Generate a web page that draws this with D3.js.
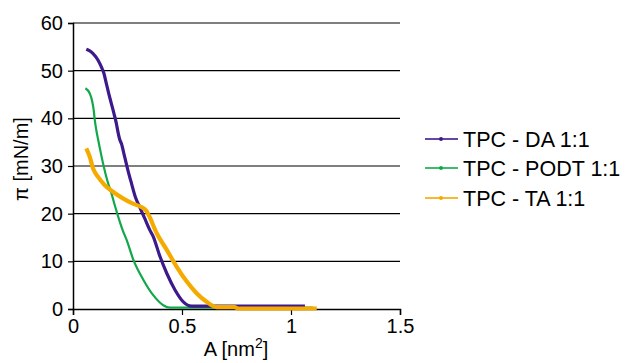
<!DOCTYPE html>
<html><head><meta charset="utf-8">
<script src="https://cdn.jsdelivr.net/npm/d3@7"></script>
<style>body{margin:0;background:#fff}svg{display:block;font-family:"Liberation Sans",Arial,sans-serif}</style>
</head><body><svg id="c" width="626" height="363"></svg>
<script>
const seriesNames = ["TPC - DA 1:1", "TPC - PODT 1:1", "TPC - TA 1:1"];
const seriesColors = ["#3d1a8c", "#12a84a", "#f5aa00"];
const daX = [0.061,0.075,0.092,0.115,0.13,0.142,0.153,0.164,0.176,0.188,0.199,0.206,0.214,0.222,0.237,0.252,0.268,0.286,0.306,0.329,0.352,0.368,0.399,0.43,0.468,0.506,0.544,0.6,0.8,1.0,1.064];
const daY = [54.5,54.2,53.6,52.2,50.8,49.4,47.3,45.2,43.1,41.0,38.9,37.2,35.6,34.7,31.9,29.1,26.4,23.5,21.4,19.0,16.6,15.2,11.0,7.5,4.0,1.5,0.6,0.6,0.6,0.6,0.6];
const podtX = [0.057,0.077,0.087,0.095,0.1,0.107,0.115,0.122,0.138,0.157,0.176,0.194,0.214,0.229,0.246,0.277,0.323,0.368,0.414,0.445,0.6,0.8,1.0,1.1];
const podtY = [46.3,45.2,43.8,41.7,39.6,37.5,35.6,34.0,30.5,27.0,24.3,21.4,18.4,16.4,14.5,10.3,6.1,2.9,0.8,0.3,0.3,0.3,0.3,0.3];
const taX = [0.061,0.077,0.092,0.115,0.145,0.183,0.229,0.275,0.313,0.336,0.346,0.384,0.43,0.475,0.521,0.567,0.613,0.659,0.74,0.76,0.9,1.0,1.118];
const taY = [33.7,31.9,29.5,27.7,26.0,24.6,23.2,22.1,21.4,20.6,19.8,15.9,12.4,8.9,5.8,3.3,1.5,0.4,0.4,0.1,0.1,0.1,0.1];
const xTicks = [0, 0.5, 1, 1.5];
const yTicks = [0, 10, 20, 30, 40, 50, 60];

const svg = d3.select("#c");
const x = d3.scaleLinear().domain([0, 1.5]).range([73, 400]);
const y = d3.scaleLinear().domain([0, 60]).range([309, 23]);

svg.append("g").selectAll("line").data(yTicks.slice(1)).join("line")
  .attr("x1", 73).attr("x2", 400).attr("y1", d => y(d)).attr("y2", d => y(d))
  .attr("stroke", "#000").attr("stroke-width", 1.2);

const yAxis = svg.append("g").attr("transform", "translate(73,0)")
  .call(d3.axisLeft(y).tickValues(yTicks).tickSize(5).tickPadding(5).tickFormat(d3.format("d")));
const xAxis = svg.append("g").attr("transform", "translate(0,309)")
  .call(d3.axisBottom(x).tickValues(xTicks).tickSize(6).tickPadding(4).tickFormat(d => String(d)));
[yAxis, xAxis].forEach(g => {
  g.select(".domain").attr("stroke", "#000").attr("stroke-width", 1.5);
  g.selectAll(".tick line").attr("stroke", "#000").attr("stroke-width", 1.2);
  g.selectAll("text").attr("font-size", 20).attr("fill", "#000").attr("font-family", "Liberation Sans, Arial, sans-serif");
});

const datasets = [[daX, daY], [podtX, podtY], [taX, taY]];
const widths = [3.2, 2.2, 4.2];
const line = d3.line().x(d => x(d[0])).y(d => y(d[1])).curve(d3.curveMonotoneX);
[1, 0, 2].forEach(i => {
  const pts = datasets[i][0].map((v, k) => [v, datasets[i][1][k]]);
  svg.append("path").datum(pts).attr("d", line).attr("fill", "none")
    .attr("stroke", seriesColors[i]).attr("stroke-width", widths[i]).attr("stroke-linejoin", "round");
});

svg.append("text").attr("x", 236).attr("y", 356).attr("text-anchor", "middle").attr("font-size", 20)
  .html('A [nm<tspan dy="-8" font-size="14">2</tspan><tspan dy="8">]</tspan>');
svg.append("text").attr("transform", "translate(28,159) rotate(-90)").attr("text-anchor", "middle").attr("font-size", 20)
  .text("π [mN/m]");

const leg = svg.append("g");
const ly = [139, 168, 198];
seriesNames.forEach((n, i) => {
  leg.append("line").attr("x1", 425).attr("x2", 458).attr("y1", ly[i]).attr("y2", ly[i])
    .attr("stroke", seriesColors[i]).attr("stroke-width", 2).attr("opacity", 0.8);
  leg.append("circle").attr("cx", 441).attr("cy", ly[i]).attr("r", 2).attr("fill", seriesColors[i]);
  leg.append("text").attr("x", 463).attr("y", ly[i] + 8).attr("font-size", 21.5).attr("fill", "#000").text(n);
});
</script></body></html>
